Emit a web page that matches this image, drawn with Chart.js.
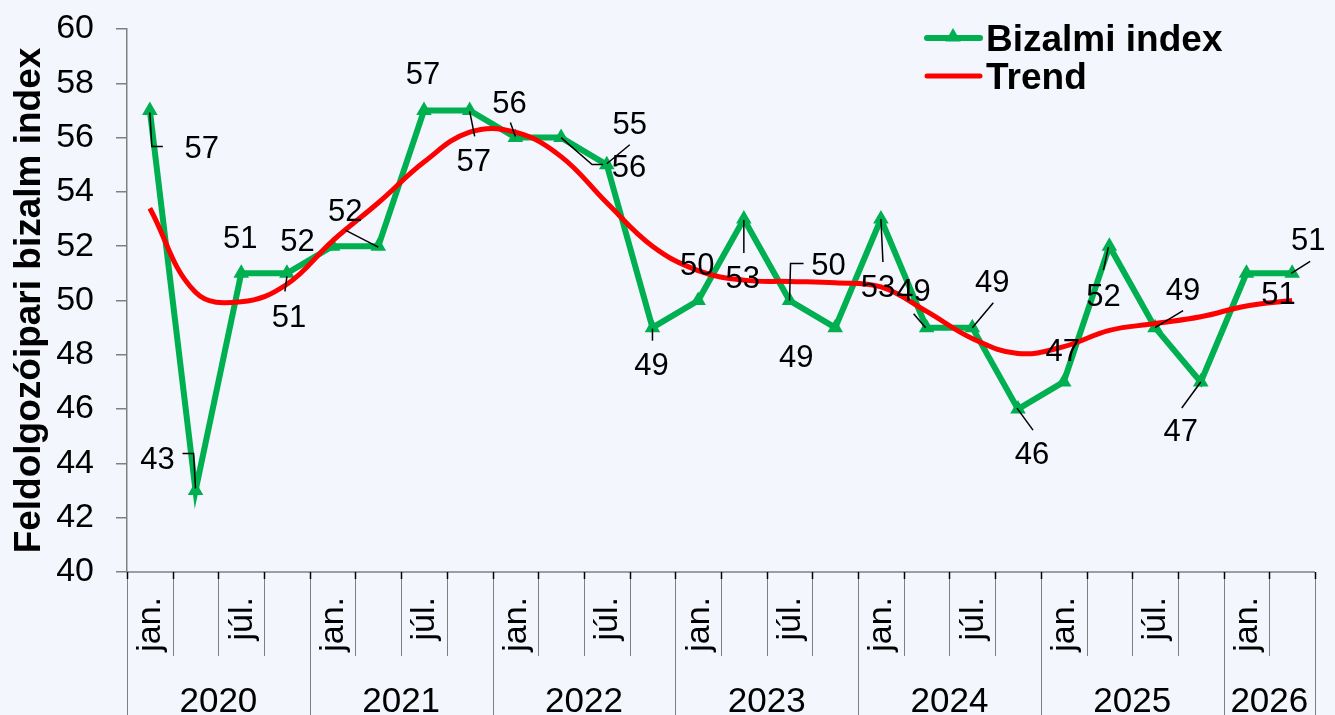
<!DOCTYPE html>
<html><head><meta charset="utf-8">
<script src="https://cdn.jsdelivr.net/npm/chart.js@4.4.1/dist/chart.umd.min.js"></script>
<style>html,body{margin:0;padding:0;background:#F3F6FD;overflow:hidden}#wrap{width:1335px;height:715px}</style>
</head><body><div id="wrap"><canvas id="c" width="1335" height="715"></canvas></div>
<script>
// ---- data ----
const years = ['2020','2021','2022','2023','2024','2025','2026'];
const yearCounts = [4,4,4,4,4,4,2];
const monthLabels = ['jan.','','júl.',''];
const categories = [
 '2020 jan.','2020 2','2020 júl.','2020 4',
 '2021 jan.','2021 2','2021 júl.','2021 4',
 '2022 jan.','2022 2','2022 júl.','2022 4',
 '2023 jan.','2023 2','2023 júl.','2023 4',
 '2024 jan.','2024 2','2024 júl.','2024 4',
 '2025 jan.','2025 2','2025 júl.','2025 4',
 '2026 jan.','2026 2'];
const bizalmi = [57,43,51,51, 52,52,57,57, 56,56,55,49, 50,53,50,49, 53,49,49,46, 47,52,49,47, 51,51];
const trend = [53.4,50.3,49.95,50.6, 52.2,53.6,55.1,56.2, 56.2,55.3,53.6,52.0, 51.1,50.75,50.7,50.65, 50.5,49.6,48.6,48.05, 48.3,48.9,49.15,49.4, 49.8,50.0];
const yTicks = {min:40, max:60, step:2};
const yTitle = 'Feldolgozóipari bizalm index';
const seriesNames = ['Bizalmi index','Trend'];

// ---- label layout (offsets in px from each point) ----
const labelOffsets = [[52,37],[-38,-33],[-1,-36],[2,43],[-35,-6],[-33,-36],[-1,-37],[4,50],[-6,-36],[68,28],[23,-42],[-1,36],[-1,-37],[-1,58],[39,-37],[-39,28],[-3,67],[-13,-38],[20,-47],[14,44],[-1,-32],[-6,49],[28,-39],[-20,48],[32,20],[16,-34]];
const leaders = [[[0,2],[2,36],[13,36]],[[-13,-37],[-2,-37],[0,-2]],null,[[0,3],[-2,18]],null,[[-33,-16],[0,1]],null,[[0,1],[5,26]],[[-5,-15],[0,-1]],[[0,0],[31,27],[42,27]],[[0,-1],[23,-20]],[[0,1],[0,13]],null,[[0,1],[0,34]],[[0,0],[1,-37],[14,-37]],null,[[0,0],[2,43]],[[-13,-14],[-1,0]],[[0,0],[21,-25]],[[-1,-1],[15,21]],null,[[-1,1],[-6,24]],[[0,0],[28,-17]],[[0,0],[-19,26]],null,[[-1,0],[18,-12]]];

const GREEN='#00B050', RED='#FF0000', BG='#F3F6FD', AXIS='#808080';
const FONT='"Liberation Sans", Arial, sans-serif';

const bgPlugin={id:'bg',beforeDraw(c){const x=c.ctx;x.save();x.fillStyle=BG;x.fillRect(0,0,c.width,c.height);x.restore();}};

const decoPlugin={id:'deco',
 afterDraw(chart){
  const ctx=chart.ctx, xs=chart.scales.x, ca=chart.chartArea;
  const n=categories.length, w=(ca.right-ca.left)/n;
  ctx.save();
  ctx.strokeStyle=AXIS; ctx.lineWidth=1.5;
  ctx.beginPath(); ctx.moveTo(ca.left,ca.bottom); ctx.lineTo(ca.right,ca.bottom); ctx.stroke();
  const yearStarts=[0]; yearCounts.forEach((c,i)=>yearStarts.push(yearStarts[i]+c));
  for(let i=0;i<=n;i++){
    const x=Math.round(ca.left+i*w)+0.5;
    const full=yearStarts.includes(i);
    ctx.strokeStyle=AXIS; ctx.lineWidth=1;
    ctx.beginPath(); ctx.moveTo(x,ca.bottom); ctx.lineTo(x,full?715:ca.bottom+84); ctx.stroke();
    ctx.strokeStyle='#000'; ctx.lineWidth=1.5;
    ctx.beginPath(); ctx.moveTo(x,ca.bottom); ctx.lineTo(x,ca.bottom+7); ctx.stroke();
  }
  ctx.fillStyle='#000'; ctx.font='34px '+FONT;
  for(let i=0;i<n;i++){
    const m=monthLabels[i%4]; if(!m) continue;
    const cx=xs.getPixelForValue(i);
    ctx.save(); ctx.translate(cx+1,ca.bottom+25); ctx.rotate(-Math.PI/2);
    ctx.textAlign='right'; ctx.textBaseline='middle'; ctx.fillText(m,0,0); ctx.restore();
  }
  ctx.font='35px '+FONT; ctx.textAlign='center'; ctx.textBaseline='alphabetic';
  years.forEach((y,k)=>{
    const cx=ca.left+(yearStarts[k]+yearCounts[k]/2)*w;
    ctx.fillText(y,cx,712);
  });
  ctx.save(); ctx.translate(40,(ca.top+ca.bottom)/2); ctx.rotate(-Math.PI/2);
  ctx.font='bold 37px '+FONT; ctx.textAlign='center'; ctx.textBaseline='alphabetic';
  ctx.fillText(yTitle,0,0); ctx.restore();
  const lx=927, lx2=980;
  ctx.lineCap='round';
  ctx.strokeStyle=GREEN; ctx.lineWidth=6; ctx.beginPath(); ctx.moveTo(lx,38); ctx.lineTo(lx2,38); ctx.stroke();
  ctx.fillStyle=GREEN; const tr=9, tcx=953, tcy=37;
  ctx.beginPath(); ctx.moveTo(tcx,tcy-tr); ctx.lineTo(tcx+tr*0.866,tcy+tr*0.5); ctx.lineTo(tcx-tr*0.866,tcy+tr*0.5); ctx.closePath(); ctx.fill();
  ctx.strokeStyle=RED; ctx.lineWidth=5; ctx.beginPath(); ctx.moveTo(lx,76); ctx.lineTo(lx2,76); ctx.stroke();
  ctx.fillStyle='#000'; ctx.font='bold 37px '+FONT; ctx.textAlign='left'; ctx.textBaseline='alphabetic';
  ctx.fillText(seriesNames[0],986,38+13); ctx.fillText(seriesNames[1],986,76+13);
  ctx.restore();
 },
 afterDatasetsDraw(chart){
  const ctx=chart.ctx, meta=chart.getDatasetMeta(1);
  ctx.save(); ctx.fillStyle='#000'; ctx.strokeStyle='#000'; ctx.lineWidth=1.5;
  ctx.font='31px '+FONT; ctx.textAlign='center'; ctx.textBaseline='alphabetic';
  meta.data.forEach((pt,i)=>{
    const L=leaders[i];
    if(L){ctx.beginPath(); L.forEach(([a,b],k)=>{k?ctx.lineTo(pt.x+a,pt.y+b):ctx.moveTo(pt.x+a,pt.y+b);}); ctx.stroke();}
    const [dx,dy]=labelOffsets[i];
    ctx.fillText(String(bizalmi[i]),pt.x+dx,pt.y+dy+11);
  });
  ctx.restore();
 }
};

new Chart(document.getElementById('c'),{
 type:'line',
 data:{labels:categories,datasets:[
  {label:seriesNames[1],data:trend,borderColor:RED,borderWidth:5,pointRadius:0,tension:0.4,fill:false,order:0},
  {label:seriesNames[0],data:bizalmi,borderColor:GREEN,backgroundColor:GREEN,borderWidth:6,pointStyle:'triangle',pointRadius:9,pointBorderWidth:0,pointBackgroundColor:GREEN,tension:0,fill:false,order:1}
 ]},
 options:{
  responsive:false,animation:false,devicePixelRatio:1,
  layout:{padding:{top:29,right:20,left:0,bottom:0}},
  plugins:{legend:{display:false},tooltip:{enabled:false}},
  scales:{
   x:{type:'category',offset:true,grid:{display:false},border:{display:false},ticks:{display:false},
      afterFit(s){s.height=143;s.paddingLeft=0;s.paddingRight=0;}},
   y:{min:yTicks.min,max:yTicks.max,
      ticks:{stepSize:yTicks.step,color:'#000',font:{family:FONT,size:34},padding:22},
      grid:{drawOnChartArea:false,tickLength:11,color:AXIS,lineWidth:1.5},
      border:{color:AXIS,width:1.5},
      afterFit(s){s.width=127;s.paddingTop=0;s.paddingBottom=0;}}
  }
 },
 plugins:[bgPlugin,decoPlugin]
});
</script></body></html>
